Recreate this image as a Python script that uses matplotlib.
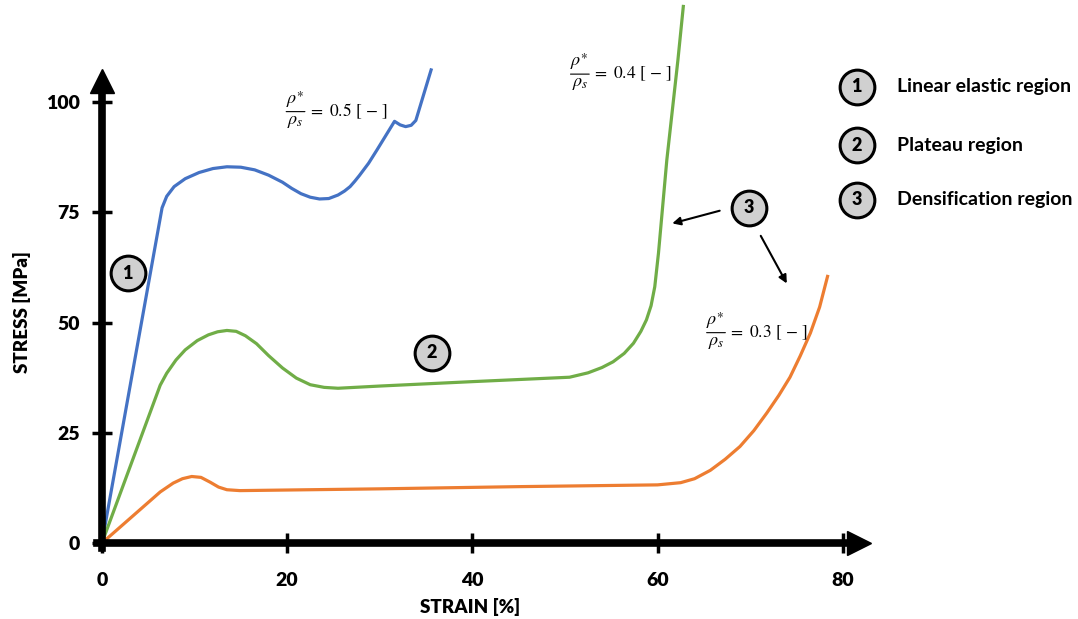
import matplotlib
matplotlib.use("Agg")
import matplotlib.pyplot as plt

plt.rcParams['font.family'] = ['Lato', 'DejaVu Sans']
plt.rcParams['mathtext.fontset'] = 'stix'

# curves: strain [%], stress [MPa]
blue_x = [0, 6.5, 7.0, 7.8, 9.0, 10.5, 12.0, 13.5, 15.0, 16.5, 18.0, 19.5, 20.5,
          21.5, 22.5, 23.5, 24.5, 25.5, 26.2, 26.8, 27.3, 27.8, 28.3, 28.8, 29.7,
          31.6, 32.2, 32.8, 33.4, 33.9, 35.6]
blue_y = [0, 76.0, 78.6, 80.8, 82.6, 84.0, 84.9, 85.3, 85.2, 84.6, 83.4, 81.8, 80.4,
          79.2, 78.4, 78.0, 78.1, 78.9, 79.8, 80.8, 82.0, 83.3, 84.7, 86.1, 89.1,
          95.6, 94.8, 94.4, 94.7, 95.8, 107.6]

green_x = [0, 6.3, 7.0, 8.0, 9.0, 10.3, 11.5, 12.5, 13.5, 14.5, 15.5, 16.7, 18.0,
           19.5, 21.0, 22.5, 24.0, 25.5, 30.0, 40.0, 50.5, 52.5, 54.0, 55.2, 56.4,
           57.4, 58.2, 58.8, 59.3, 59.7, 60.1, 61.0, 62.2, 62.8]
green_y = [0, 35.8, 38.5, 41.5, 43.8, 45.9, 47.2, 47.9, 48.2, 48.0, 47.0, 45.2, 42.5,
           39.7, 37.4, 35.9, 35.3, 35.1, 35.6, 36.6, 37.6, 38.6, 39.8, 41.1, 43.0,
           45.3, 48.0, 50.6, 53.8, 58.1, 65.7, 86.8, 109.5, 122.0]

orange_x = [0, 6.3, 7.7, 8.7, 9.7, 10.7, 11.7, 12.6, 13.5, 14.9, 30.0, 45.0, 60.0,
            62.5, 64.0, 65.7, 67.3, 68.9, 70.4, 71.8, 73.1, 74.3, 75.4, 76.5, 77.5,
            78.4]
orange_y = [0, 11.6, 13.6, 14.6, 15.1, 14.9, 13.8, 12.7, 12.1, 11.9, 12.3, 12.8, 13.2,
            13.7, 14.6, 16.5, 19.0, 21.9, 25.5, 29.5, 33.5, 37.6, 42.4, 47.6, 53.5,
            60.8]

x_ticks = [0, 20, 40, 60, 80]
y_ticks = [0, 25, 50, 75, 100]

density_labels = ['0.5', '0.4', '0.3']
density_pos = [(19.9, 97.8), (50.6, 106.3), (65.3, 47.7)]

region_names = ['Linear elastic region', 'Plateau region', 'Densification region']
marker_pos = [(2.8, 61.2), (35.6, 43.1), (69.9, 76.0)]
legend_y = [103.4, 90.2, 77.8]

BLUE, GREEN, ORANGE = '#4472C4', '#70AD47', '#ED7D31'

fig = plt.figure(figsize=(10.78, 6.19), dpi=100)
ax = fig.add_axes([0, 0, 1, 1])
ax.set_xlim(-11.0, 105.4)
ax.set_ylim(-17.2, 123.1)

for side in ['top', 'right']:
    ax.spines[side].set_visible(False)
ax.spines['left'].set_position(('data', 0))
ax.spines['bottom'].set_position(('data', 0))
ax.spines['left'].set_bounds(-1.0, 103.5)
ax.spines['bottom'].set_bounds(-0.5, 81.0)
for side in ['left', 'bottom']:
    ax.spines[side].set_linewidth(5.5)

# arrow heads on the axes
ax.plot([0], [104.8], marker='^', ms=17, color='k', clip_on=False)
ax.plot([81.8], [0], marker='>', ms=17, color='k', clip_on=False)

ax.set_xticks(x_ticks)
ax.set_yticks(y_ticks)
ax.set_xticklabels([str(t) for t in x_ticks], fontweight='heavy')
ax.set_yticklabels([str(t) for t in y_ticks], fontweight='heavy')
ax.tick_params(direction='inout', length=14, width=2.5, labelsize=14)
ax.tick_params(axis='x', pad=14)
ax.tick_params(axis='y', pad=9)

ax.plot(blue_x, blue_y, color=BLUE, lw=2.3, solid_capstyle='butt')
ax.plot(green_x, green_y, color=GREEN, lw=2.3, solid_capstyle='butt')
ax.plot(orange_x, orange_y, color=ORANGE, lw=2.3, solid_capstyle='butt')

# relative density labels: rho*/rho_s = value [-], fraction built by hand
for lab, (tx, ty) in zip(density_labels, density_pos):
    ax.annotate('', xy=(tx, ty), xytext=(13.5, 0), textcoords='offset points',
                arrowprops=dict(arrowstyle='-', lw=0.8, color='k',
                                shrinkA=0, shrinkB=0))
    ax.annotate(r'$\rho^{\ast}$', xy=(tx, ty), xytext=(6.5, 1.5),
                textcoords='offset points', ha='center', va='bottom', fontsize=13)
    ax.annotate(r'$\rho_s$', xy=(tx, ty), xytext=(6.8, -1.5),
                textcoords='offset points', ha='center', va='top', fontsize=13)
    ax.annotate(r'$=\ %s\ [\,-\,]$' % lab, xy=(tx, ty), xytext=(15.5, 0),
                textcoords='offset points', ha='left', va='center', fontsize=12.5)

def circled(x, y, num):
    ax.plot([x], [y], marker='o', ms=25, mfc='#d0d0d0', mec='k', mew=2.2,
            clip_on=False, zorder=5)
    ax.text(x, y, str(num), ha='center', va='center', fontsize=13,
            fontweight='heavy', zorder=6)

for i, (mx, my) in enumerate(marker_pos):
    circled(mx, my, i + 1)

for i, (name, ly) in enumerate(zip(region_names, legend_y)):
    circled(81.5, ly, i + 1)
    ax.text(85.9, ly, name, ha='left', va='center', fontsize=14, fontweight='bold')

arrow = dict(arrowstyle='-|>', color='k', lw=1.5, mutation_scale=12)
ax.annotate('', xy=(61.3, 72.3), xytext=(67.0, 75.5), arrowprops=arrow)
ax.annotate('', xy=(74.1, 58.3), xytext=(71.0, 70.2), arrowprops=arrow)

ax.set_xlabel('STRAIN [%]', fontsize=13.5, fontweight='heavy', va='center')
ax.set_ylabel('STRESS [MPa]', fontsize=13.5, fontweight='heavy', va='center')
ax.xaxis.set_label_coords(0.436, 0.019)
ax.yaxis.set_label_coords(0.0204, 0.496)

fig.savefig('out.png', dpi=100, facecolor='white')
